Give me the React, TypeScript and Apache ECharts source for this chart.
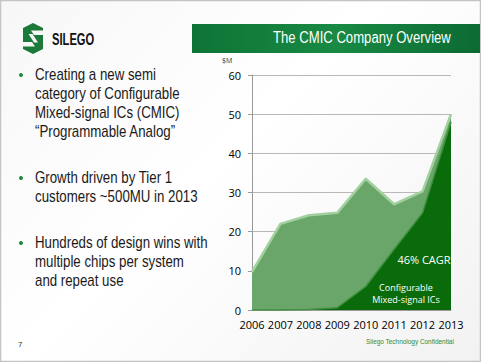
import React, { useEffect, useRef } from "react";
import * as echarts from "echarts";

const years = ["2006", "2007", "2008", "2009", "2010", "2011", "2012", "2013"];
const totalRevenue = [9.7, 22, 24.2, 24.8, 33.5, 27, 30.3, 50];
const cmicRevenue = [0, 0, 0.1, 0.6, 6, 15.5, 24.8, 48];
const yMin = 0;
const yMax = 60;
const yInterval = 10;

const titleText = "The CMIC Company Overview";
const bulletGroups = [
  ["Creating a new semi", "category of Configurable", "Mixed-signal ICs (CMIC)", "\u201CProgrammable Analog\u201D"],
  ["Growth driven by Tier 1", "customers ~500MU in 2013"],
  ["Hundreds of design wins with", "multiple chips per system", "and repeat use"],
];
const bulletLineY = [
  [75, 94, 113, 132],
  [178, 197],
  [243, 262, 281],
];

export default function App() {
  const ref = useRef<HTMLDivElement>(null);

  useEffect(() => {
    if (!ref.current) return;
    const chart = echarts.init(ref.current, undefined, { renderer: "svg" });

    const bulletFont = "Liberation Sans, Arial, sans-serif";
    const graphics: any[] = [];

    // page border
    graphics.push({
      type: "rect",
      shape: { x: 0.5, y: 0.5, width: 480, height: 361 },
      style: { fill: "transparent", stroke: "#c4c4c4", lineWidth: 1.5 },
      silent: true,
    });

    // logo
    graphics.push({
      type: "group",
      x: 23,
      y: 23,
      children: [
        {
          type: "polygon",
          shape: { points: [[10, 0], [20, 5], [20, 26], [10, 31], [0, 26], [0, 5]] },
          style: { fill: "#1b7a3a" },
        },
        {
          type: "polygon",
          shape: { points: [[8, 7.5], [20, 7.5], [20, 12], [11, 12]] },
          style: { fill: "#f6f6f6" },
        },
        {
          type: "polygon",
          shape: { points: [[5.5, 11], [9.5, 11], [15, 19.5], [11, 19.5]] },
          style: { fill: "#f6f6f6" },
        },
        {
          type: "polygon",
          shape: { points: [[0, 19], [9, 19], [12, 23.5], [0, 23.5]] },
          style: { fill: "#f6f6f6" },
        },
      ],
    });
    graphics.push({
      type: "text",
      x: 52,
      y: 39,
      scaleX: 0.7,
      style: {
        text: "SILEGO",
        fontSize: 16,
        fontWeight: "bold",
        fontFamily: bulletFont,
        fill: "#111111",
        verticalAlign: "middle",
      },
    });

    // title bar
    graphics.push({
      type: "rect",
      shape: { x: 192, y: 24, width: 288, height: 29 },
      style: {
        fill: {
          type: "linear",
          x: 0,
          y: 0,
          x2: 1,
          y2: 0,
          colorStops: [
            { offset: 0, color: "#0e7436" },
            { offset: 0.5, color: "#188a44" },
            { offset: 1, color: "#0c6a33" },
          ],
        },
      },
    });
    graphics.push({
      type: "text",
      x: 273,
      y: 38,
      scaleX: 0.82,
      style: {
        text: titleText,
        fontSize: 16,
        fontFamily: bulletFont,
        fill: "#ffffff",
        verticalAlign: "middle",
      },
    });

    // bullets
    bulletGroups.forEach((lines, gi) => {
      graphics.push({
        type: "circle",
        shape: { cx: 21, cy: bulletLineY[gi][0], r: 2 },
        style: { fill: "#1e8a3c" },
      });
      lines.forEach((line, li) => {
        graphics.push({
          type: "text",
          x: 35,
          y: bulletLineY[gi][li],
          scaleX: 0.83,
          style: {
            text: line,
            fontSize: 16,
            fontFamily: bulletFont,
            fill: "#1a1a1a",
            verticalAlign: "middle",
          },
        });
      });
    });

    // footer
    graphics.push({
      type: "text",
      x: 18,
      y: 344,
      style: { text: "7", fontSize: 8, fontFamily: bulletFont, fill: "#333333", verticalAlign: "middle" },
    });
    graphics.push({
      type: "text",
      x: 366,
      y: 341,
      scaleX: 0.92,
      style: {
        text: "Silego Technology Confidential",
        fontSize: 7,
        fontFamily: bulletFont,
        fill: "#2a8a3a",
        verticalAlign: "middle",
      },
    });

    // unit label
    graphics.push({
      type: "text",
      x: 222,
      y: 60,
      style: { text: "$M", fontSize: 7, fontFamily: "Open Sans, sans-serif", fill: "#333333", verticalAlign: "middle" },
    });

    // annotations
    graphics.push({
      type: "text",
      x: 424,
      y: 259,
      z: 100,
      style: {
        text: "46% CAGR",
        fontSize: 11,
        fontFamily: "Open Sans, sans-serif",
        fill: "#ffffff",
        align: "center",
        verticalAlign: "middle",
      },
    });
    graphics.push({
      type: "text",
      x: 406,
      y: 287,
      z: 100,
      style: {
        text: "Configurable",
        fontSize: 9,
        fontFamily: "Open Sans, sans-serif",
        fill: "#ffffff",
        align: "center",
        verticalAlign: "middle",
      },
    });
    graphics.push({
      type: "text",
      x: 406,
      y: 299,
      z: 100,
      style: {
        text: "Mixed-signal ICs",
        fontSize: 9,
        fontFamily: "Open Sans, sans-serif",
        fill: "#ffffff",
        align: "center",
        verticalAlign: "middle",
      },
    });

    chart.setOption({
      animation: false,
      backgroundColor: "transparent",
      grid: { left: 252, right: 30, top: 75, bottom: 52, containLabel: false },
      xAxis: {
        type: "category",
        data: years,
        boundaryGap: false,
        axisLine: { show: true, lineStyle: { color: "#9a9a9a" } },
        axisTick: { show: false },
        axisLabel: {
          color: "#000000",
          fontSize: 11,
          fontFamily: "Open Sans, sans-serif",
          margin: 9,
          interval: 0,
          hideOverlap: false,
        },
        splitLine: { show: false },
      },
      yAxis: {
        type: "value",
        min: yMin,
        max: yMax,
        interval: yInterval,
        axisLine: { show: true, lineStyle: { color: "#9a9a9a" } },
        axisTick: { show: true, length: 4, lineStyle: { color: "#9a9a9a" } },
        axisLabel: { color: "#000000", fontSize: 11, fontFamily: "Open Sans, sans-serif", margin: 11 },
        splitLine: { show: true, lineStyle: { color: "#b8b8b8", width: 1 } },
      },
      series: [
        {
          name: "Total",
          type: "line",
          data: totalRevenue,
          symbol: "none",
          z: 2,
          lineStyle: { color: "#a2d09e", width: 2.5 },
          areaStyle: { color: "#6aa66a", opacity: 1 },
        },
        {
          name: "CMIC",
          type: "line",
          data: cmicRevenue,
          symbol: "none",
          z: 3,
          lineStyle: { color: "#3e8f3e", width: 1.5 },
          areaStyle: { color: "#0a6b0a", opacity: 1 },
        },
      ],
      graphic: graphics,
    });

    return () => chart.dispose();
  }, []);

  return (
    <div
      style={{
        position: "fixed",
        left: 0,
        top: 0,
        width: 481,
        height: 362,
        background: "linear-gradient(135deg, #f7f7f7 0%, #ffffff 45%, #f2f2f2 100%)",
      }}
    >
      <div ref={ref} style={{ width: 481, height: 362 }} />
    </div>
  );
}
